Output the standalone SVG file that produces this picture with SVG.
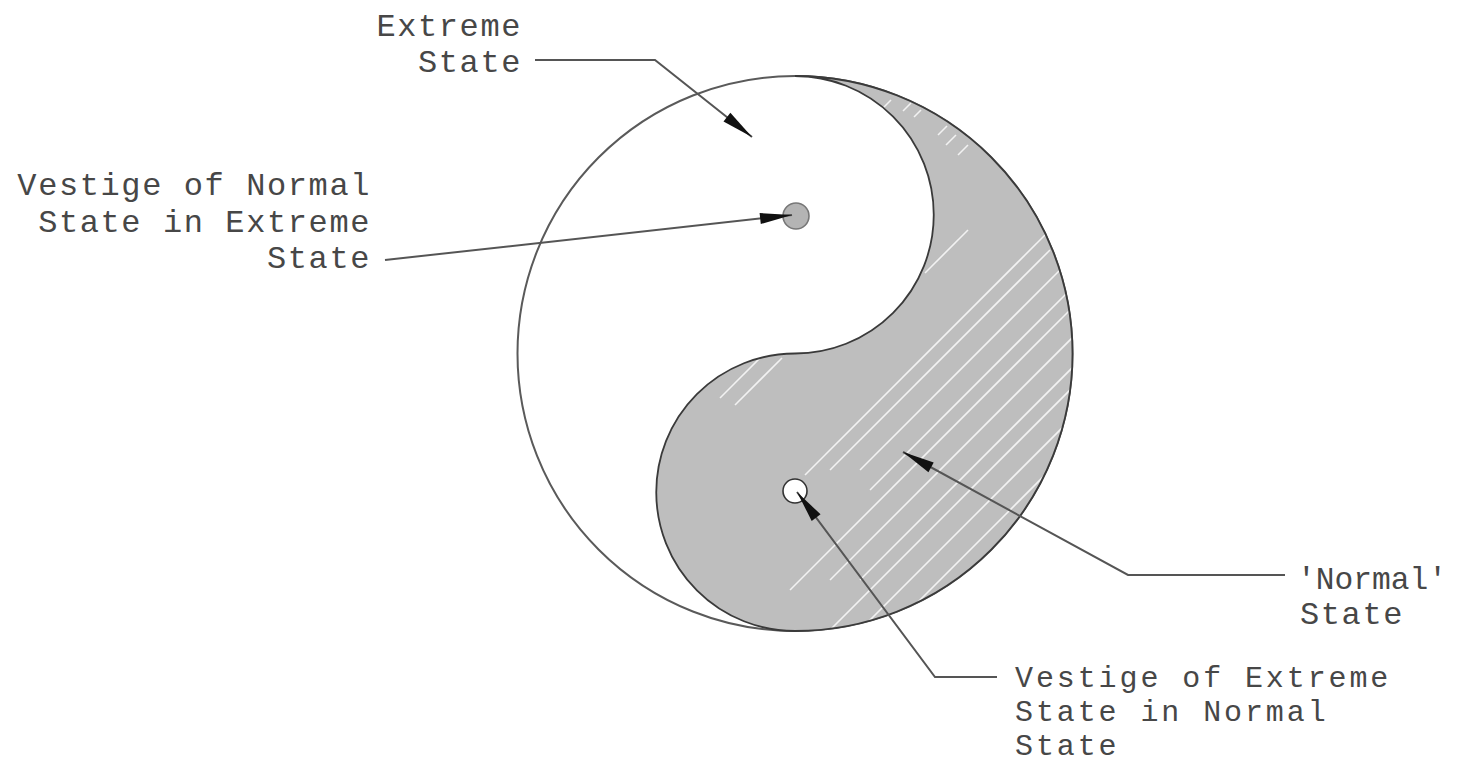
<svg xmlns="http://www.w3.org/2000/svg" width="1457" height="765" viewBox="0 0 1457 765">
<style>
.lbl{font-family:"Liberation Mono","DejaVu Sans Mono",monospace;font-size:32px;letter-spacing:1.6px;fill:#474747}
.sm{font-size:30px;letter-spacing:2.9px}
.ld{fill:none;stroke:#555;stroke-width:2}
.hatch{stroke:#f2f2f2;stroke-width:1.6;fill:none}
</style>
<defs>
<marker id="ah" markerUnits="userSpaceOnUse" markerWidth="40" markerHeight="16" viewBox="-34 -8 36 16" refX="0" refY="0" orient="auto">
<path d="M0,0 L-32,-5.5 L-32,5.5 Z" fill="#111"/>
</marker>
<clipPath id="shclip">
<path d="M795,76 A277.5,277.5 0 0 1 795,631 A138.75,138.75 0 0 1 795,353.5 A138.75,138.75 0 0 0 795,76 Z"/>
</clipPath>
</defs>
<rect width="1457" height="765" fill="#fff"/>
<g id="yinyang">
<circle cx="795" cy="353.5" r="277.5" fill="#fff" stroke="#5a5a5a" stroke-width="2"/>
<path d="M795,76 A277.5,277.5 0 0 1 795,631 A138.75,138.75 0 0 1 795,353.5 A138.75,138.75 0 0 0 795,76 Z" fill="#bebebe"/>
<g clip-path="url(#shclip)" class="hatch">
<line x1="925" y1="273" x2="968" y2="230"/>
<line x1="805" y1="475" x2="1045" y2="235"/>
<line x1="830" y1="470" x2="1050" y2="250"/>
<line x1="860" y1="470" x2="1060" y2="270"/>
<line x1="870" y1="490" x2="1070" y2="290"/>
<line x1="790" y1="590" x2="1070" y2="310"/>
<line x1="830" y1="580" x2="1075" y2="335"/>
<line x1="860" y1="580" x2="1075" y2="365"/>
<line x1="740" y1="720" x2="1075" y2="385"/>
<line x1="760" y1="730" x2="1075" y2="415"/>
<line x1="790" y1="730" x2="1075" y2="445"/>
<line x1="810" y1="735" x2="1075" y2="470"/>
<line x1="840" y1="735" x2="1075" y2="500"/>
<line x1="860" y1="740" x2="1075" y2="525"/>
<line x1="880" y1="750" x2="1075" y2="555"/>
<line x1="905" y1="755" x2="1075" y2="585"/>
<line x1="720" y1="398" x2="764" y2="354"/>
<line x1="735" y1="405" x2="782" y2="358"/>
<line x1="884" y1="107" x2="891" y2="100"/>
<line x1="903" y1="111" x2="911" y2="103"/>
<line x1="914" y1="117" x2="921" y2="110"/>
<line x1="938" y1="135" x2="947" y2="126"/>
<line x1="946" y1="145" x2="956" y2="135"/>
<line x1="958" y1="155" x2="968" y2="145"/>
</g>
<path d="M795,76 A277.5,277.5 0 0 1 795,631 A138.75,138.75 0 0 1 795,353.5 A138.75,138.75 0 0 0 795,76 Z" fill="none" stroke="#3a3a3a" stroke-width="1.8"/>
</g>
<g id="dot-normal-in-extreme">
<circle cx="796" cy="216" r="13" fill="#b4b4b4" stroke="#777" stroke-width="1.6"/>
</g>
<g id="dot-extreme-in-normal">
<circle cx="795" cy="491" r="12" fill="#fff" stroke="#333" stroke-width="1.6"/>
</g>
<g id="connectors">
<polyline class="ld" points="535,60 655,60 752,137" marker-end="url(#ah)"/>
<line class="ld" x1="385" y1="260" x2="792" y2="215" marker-end="url(#ah)"/>
<polyline class="ld" points="1285,575 1128,575 903,452" marker-end="url(#ah)"/>
<polyline class="ld" points="997,677 935,677 797,492" marker-end="url(#ah)"/>
</g>
<g id="label-extreme">
<text class="lbl" text-anchor="end" x="522" y="36">Extreme</text>
<text class="lbl" text-anchor="end" x="522" y="72">State</text>
</g>
<g id="label-vestige-normal">
<text class="lbl" text-anchor="end" x="371" y="195">Vestige of Normal</text>
<text class="lbl" text-anchor="end" x="371" y="232">State in Extreme</text>
<text class="lbl" text-anchor="end" x="371" y="268">State</text>
</g>
<g id="label-normal">
<text class="lbl" x="1297" y="589" style="letter-spacing:0" textLength="150" lengthAdjust="spacingAndGlyphs">'Normal'</text>
<text class="lbl" x="1300" y="624">State</text>
</g>
<g id="label-vestige-extreme">
<text class="lbl sm" x="1015" y="687">Vestige of Extreme</text>
<text class="lbl sm" x="1015" y="721">State in Normal</text>
<text class="lbl sm" x="1015" y="755">State</text>
</g>
</svg>
